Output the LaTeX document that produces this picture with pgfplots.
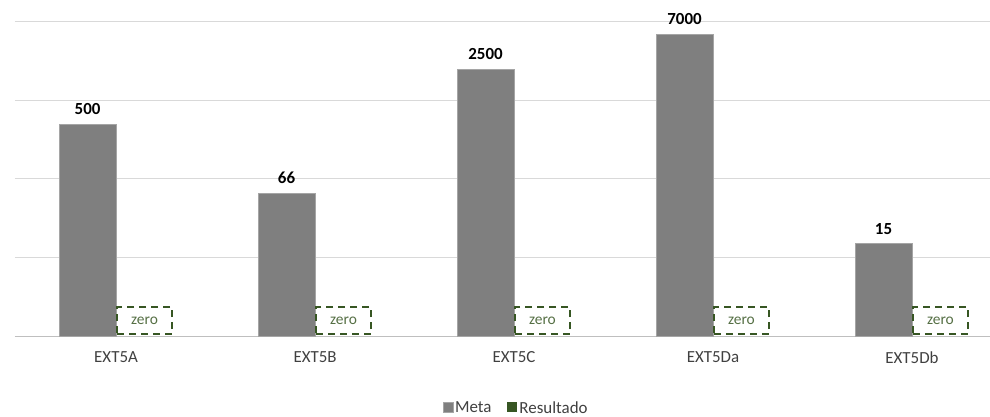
\documentclass[border=0pt]{standalone}
\usepackage{pgfplots}
\pgfplotsset{compat=1.18}
\usepackage{fontspec}
\setmainfont{Carlito}
\definecolor{metagray}{HTML}{7F7F7F}
\definecolor{resgreen}{HTML}{375623}
\definecolor{gridgray}{HTML}{D9D9D9}
\definecolor{axisgray}{HTML}{BFBFBF}
\definecolor{txtgray}{HTML}{404040}
\tikzset{zerobox/.style={draw=resgreen, dash pattern=on 7bp off 5bp, line width=1.6bp,
    minimum width=55bp, minimum height=27bp, anchor=south, text=resgreen!85!white,
    font=\fontsize{15.5}{17}\selectfont, inner sep=0pt, yshift=1bp}}
\begin{document}
\begin{tikzpicture}[x=1bp,y=1bp]
\begin{axis}[
  scale only axis,
  width=975bp, height=314bp,
  at={(0,0)}, anchor=south west,
  ymode=log, ymin=1, ymax=10000,
  ytick={1,10,100,1000,10000},
  yticklabels={},
  yminorticks=false, minor tick length=0pt,
  ymajorgrids, grid style={gridgray, line width=1bp},
  xmin=-0.508, xmax=4.392,
  xtick={0,1,2,3,4},
  xticklabels={EXT5A,EXT5B,EXT5C,EXT5Da,EXT5Db},
  xticklabel style={font=\fontsize{17}{19}\selectfont, text=txtgray, yshift=-12bp},
  major tick length=0pt,
  axis x line*=bottom, axis y line*=left,
  x axis line style={axisgray, line width=1bp, -},
  y axis line style={draw=none},
  legend style={at={(0.514,-0.229)}, anchor=center, draw=none, fill=none,
    legend columns=2, font=\fontsize{17}{19}\selectfont, text=txtgray,
    /tikz/every even column/.append style={column sep=14bp}},
  legend image code/.code={\fill[#1] (0bp,-4.5bp) rectangle (10bp,5.5bp);},
]
\addplot[ybar, bar width=0.286, bar shift=-0.143, fill=metagray, draw=metagray!70!white,
  point meta=explicit symbolic,
  nodes near coords={\pgfplotspointmeta},
  nodes near coords style={font=\fontsize{17}{19}\selectfont\bfseries, text=black, xshift=-28.5bp, yshift=6bp}]
  coordinates {(0,500) [500] (1,66) [66] (2,2500) [2500] (3,7000) [7000] (4,15) [15]};
\addlegendentry{Meta}
\addlegendimage{fill=resgreen, draw=none}
\addlegendentry{Resultado}
% Resultado: 0, 0, 0, 0, 0 (not drawable on the log axis; marked "zero")
\node[zerobox] at (axis cs:0.143,1) {zero};
\node[zerobox] at (axis cs:1.143,1) {zero};
\node[zerobox] at (axis cs:2.143,1) {zero};
\node[zerobox] at (axis cs:3.143,1) {zero};
\node[zerobox] at (axis cs:4.143,1) {zero};
\end{axis}
\pgfresetboundingbox
\path[use as bounding box] (-15bp,-81bp) rectangle (975bp,336bp);
\end{tikzpicture}
\end{document}
